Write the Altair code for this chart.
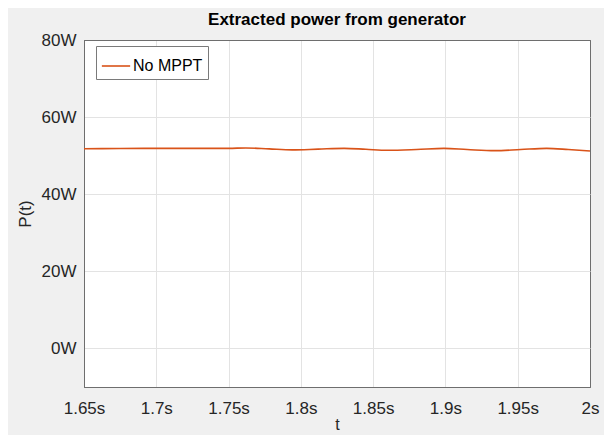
import altair as alt
import pandas as pd

t_vals = [1.65, 1.675, 1.70, 1.725, 1.75, 1.762, 1.778, 1.794, 1.812, 1.83, 1.845, 1.86, 1.88, 1.899, 1.915, 1.934, 1.952, 1.97, 1.985, 2.0]
p_vals = [51.8, 51.85, 51.9, 51.9, 51.9, 52.0, 51.75, 51.5, 51.7, 51.9, 51.65, 51.4, 51.6, 51.9, 51.6, 51.3, 51.6, 51.9, 51.6, 51.2]
series = ["No MPPT"] * len(t_vals)

x_ticks = [1.65, 1.7, 1.75, 1.8, 1.85, 1.9, 1.95, 2.0]
y_ticks = [0, 20, 40, 60, 80]

df = pd.DataFrame({"t": t_vals, "P": p_vals, "series": series})

FONT = "Liberation Sans"
BORDER = "#6e6e6e"
GRID = "#e3e3e3"

x_grid_color = {"condition": {"test": "datum.value <= 1.6501 || datum.value >= 1.9999", "value": BORDER}, "value": GRID}
y_grid_color = {"condition": {"test": "datum.value >= 79.99", "value": BORDER}, "value": GRID}

chart = alt.Chart(df).mark_line(strokeWidth=1.6, interpolate="monotone").encode(
    x=alt.X("t:Q", scale=alt.Scale(domain=[1.65, 2.0], nice=False, zero=False),
            axis=alt.Axis(values=x_ticks, labelExpr="format(datum.value, '') + 's'",
                          title="t", tickSize=0, labelPadding=13, titlePadding=0,
                          titleFontSize=16,
                          domain=True, domainColor=BORDER, gridColor=x_grid_color,
                          labelFlush=False)),
    y=alt.Y("P:Q", scale=alt.Scale(domain=[-10, 80], nice=False, zero=False),
            axis=alt.Axis(values=y_ticks, labelExpr="datum.value + 'W'",
                          title="P(t)", tickSize=0, labelPadding=8, titlePadding=7,
                          domain=True, domainColor=BORDER, gridColor=y_grid_color)),
    color=alt.Color("series:N", scale=alt.Scale(range=["#D95319"]),
                    legend=alt.Legend(title=None, orient="none", legendX=12, legendY=6,
                                      symbolType="stroke", symbolSize=800, symbolStrokeWidth=1.6,
                                      labelFontSize=16, labelFont=FONT, labelColor="#000000",
                                      fillColor="white", strokeColor="#7a7a7a",
                                      padding=5, cornerRadius=0, labelOffset=2)),
).properties(
    width=506, height=347,
    title=alt.TitleParams("Extracted power from generator", fontSize=17, font=FONT,
                          fontWeight="bold", color="#000000", offset=2),
    background="#f0f0f0",
    padding={"left": 76, "top": 32, "right": 14, "bottom": 48},
    autosize=alt.AutoSizeParams(type="none"),
).configure_view(
    fill="white", stroke=BORDER, strokeWidth=1
).configure_axis(
    labelFont=FONT, titleFont=FONT, labelFontSize=17, titleFontSize=17,
    labelColor="#262626", titleColor="#262626", titleFontWeight="normal"
)

chart.save("out.html", embed_options={"renderer": "svg", "actions": False})
